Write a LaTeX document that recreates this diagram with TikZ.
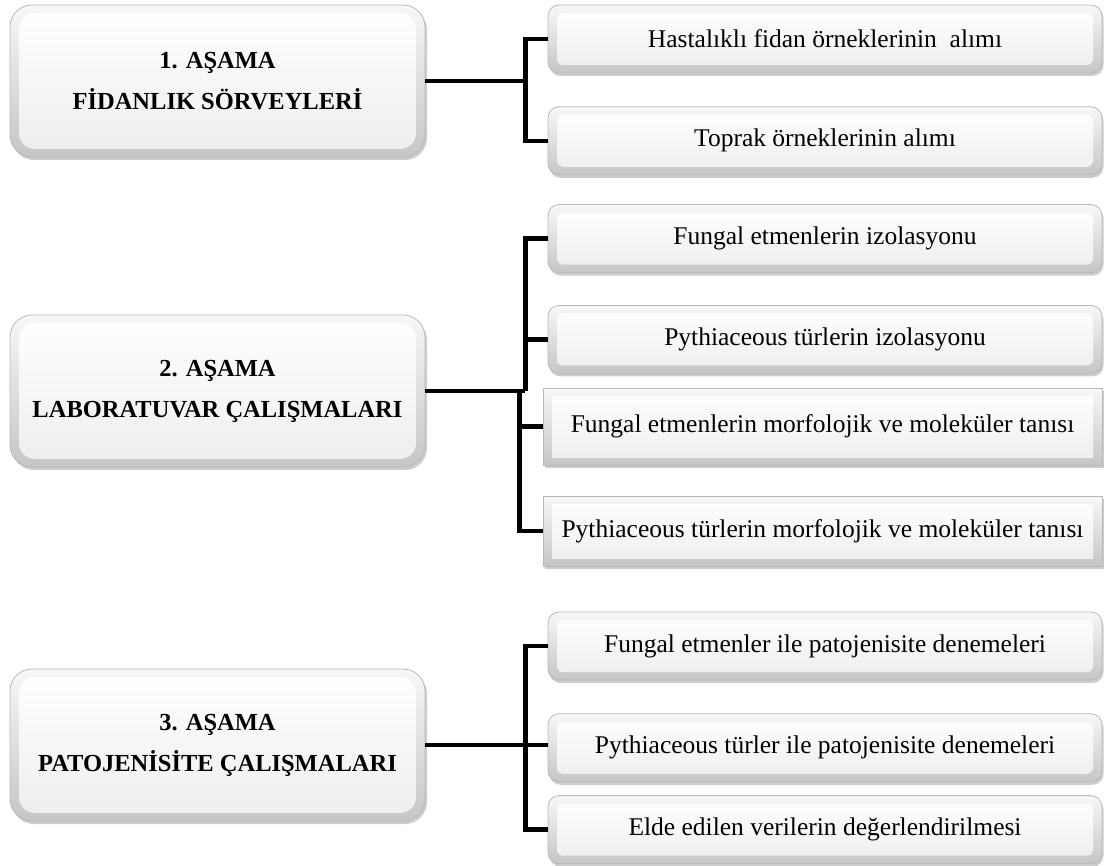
\documentclass[tikz,border=0pt]{standalone}
\usepackage{fontspec}
\setmainfont{Liberation Serif}
\usetikzlibrary{positioning,shadows,calc}
\tikzset{
        bevel/.style = {path picture={
            \shade[top color=white, bottom color=gray!14, rounded corners=#1]
              ($(path picture bounding box.north west)+(9pt,-8pt)$) rectangle
              ($(path picture bounding box.south east)+(-9pt,8pt)$);}},
        stage/.style = {draw=gray!55, line width=0.8pt, rounded corners=22pt,
            top color=gray!6, bottom color=gray!45, bevel=16pt,
            drop shadow={shadow xshift=2pt, shadow yshift=-3pt, opacity=0.4},
            minimum width=415pt, minimum height=152pt, align=center,
            font=\fontsize{24.5}{41}\selectfont\bfseries},
        task/.style = {draw=gray!55, line width=0.8pt, rounded corners=11pt,
            top color=gray!6, bottom color=gray!45, bevel=6pt,
            drop shadow={shadow xshift=1.5pt, shadow yshift=-3pt, opacity=0.4},
            minimum width=554pt, minimum height=68pt,
            font=\fontsize{25.5}{28}\selectfont},
        taskbox/.style = {task, sharp corners, bevel=0pt,
            minimum width=559pt, minimum height=77pt},
        link/.style = {draw, line width=4.5pt, black},
    }

\begin{document}
\begin{tikzpicture}
    \useasboundingbox (0,0) rectangle (1107pt,-866pt);

    % asamalar
    \node[stage] (s1) at (217.5pt,-81pt) {1. AŞAMA\\FİDANLIK SÖRVEYLERİ};
    \node[stage] (s2) at (217.5pt,-391pt) {2. AŞAMA\\LABORATUVAR ÇALIŞMALARI};
    \node[stage] (s3) at (217.5pt,-745pt) {3. AŞAMA\\PATOJENİSİTE ÇALIŞMALARI};

    % 1. asama
    \node[task] (c1) at (825pt,-39pt) {Hastalıklı fidan örneklerinin~ alımı};
    \node[task, below=33pt of c1] (c2) {Toprak örneklerinin alımı};

    % 2. asama
    \node[task, below=29pt of c2] (c3) {Fungal etmenlerin izolasyonu};
    \node[task, below=32pt of c3] (c4) {Pythiaceous türlerin izolasyonu};
    \node[taskbox, below=14pt of c4.south east, anchor=north east] (c5)
        {Fungal etmenlerin morfolojik ve moleküler tanısı};
    \node[taskbox, below=30pt of c5, minimum height=70pt] (c6)
        {Pythiaceous türlerin morfolojik ve moleküler tanısı};

    % 3. asama
    \node[task] (c7) at (825pt,-646pt) {Fungal etmenler ile patojenisite denemeleri};
    \node[task, below=33pt of c7] (c8) {Pythiaceous türler ile patojenisite denemeleri};
    \node[task, below=13pt of c8] (c9) {Elde edilen verilerin değerlendirilmesi};

    % baglantilar
    \draw[link] (s1.east) -- ++(100pt,0) coordinate (b1);
    \draw[link] (c1.west) -| (b1) |- (c2.west);

    \draw[link] (s2.east) -- ++(100pt,0) coordinate (b2);
    \draw[link] (c3.west) -| (b2);
    \draw[link] (c4.west) -| (b2);
    \coordinate (b2l) at ($(b2)+(-6pt,0)$);
    \draw[link] (c5.west) -| (b2l) |- (c6.west);

    \draw[link] (s3.east) -- ++(100pt,0) coordinate (b3);
    \draw[link] (c7.west) -| (b3) |- (c9.west);
    \draw[link] (b3) -- (b3 -| c8.west);
\end{tikzpicture}
\end{document}
